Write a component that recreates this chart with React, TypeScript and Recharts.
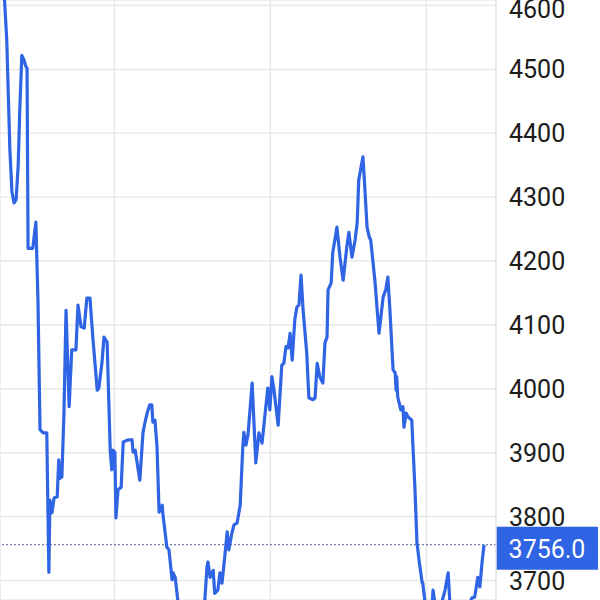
import * as React from "react"
import {
  CartesianGrid,
  Line,
  LineChart,
  ReferenceLine,
  XAxis,
  YAxis
} from "recharts"

// trading days since start of window (fractional = intraday)
const days = [
  0.6, 1.3, 1.9, 2.3, 2.7, 3.1, 3.5, 3.8, 4.2, 4.6, 5.0, 5.2, 5.4, 6.3, 6.9, 7.3, 7.7, 8.3, 9.0, 9.4,
  9.6, 10.0, 10.4, 11.0, 11.3, 11.5, 11.9, 12.3, 12.7, 13.3, 13.8, 14.6, 15.0, 15.6, 16.2, 16.7, 17.3, 17.9, 18.7, 19.0,
  19.6, 20.0, 20.6, 21.2, 21.5, 21.7, 22.1, 22.3, 22.7, 23.3, 23.7, 24.6, 25.4, 25.6, 26.0, 26.9, 27.5, 27.9, 28.3, 28.8,
  29.2, 29.4, 29.8, 30.2, 30.6, 31.2, 31.3, 32.1, 32.5, 33.1, 33.3, 33.7, 34.2, 35.2, 36.5, 37.7, 38.7, 39.4, 39.8, 40.0,
  40.4, 41.0, 41.3, 41.9, 42.3, 42.7, 43.3, 43.7, 44.0, 44.6, 45.0, 45.6, 46.2, 46.7, 46.9, 47.3, 47.7, 48.5, 49.2, 49.8,
  50.4, 51.0, 51.5, 51.9, 52.3, 52.7, 53.5, 54.2, 54.6, 55.0, 55.4, 55.8, 56.2, 56.7, 57.1, 57.5, 57.9, 58.3, 59.0, 59.4,
  60.2, 60.6, 61.0, 61.5, 62.1, 62.5, 62.9, 63.1, 63.7, 64.0, 64.8, 65.4, 66.0, 66.7, 67.1, 67.7, 68.3, 68.7, 69.0, 69.8,
  70.0, 70.6, 71.0, 71.3, 72.1, 72.9, 73.7, 74.2, 74.6, 75.0, 75.6, 76.0, 76.2, 76.3, 76.5, 77.1, 77.5, 77.7, 78.1, 78.5,
  79.2, 79.4, 79.8, 80.2, 80.6, 81.2, 81.3, 81.7, 82.3, 82.9, 83.3, 83.7, 84.6, 85.6, 86.2, 86.5, 87.5, 88.5, 89.6, 90.8,
  91.3, 91.9, 92.3, 92.7, 93.1
]

const prices = [
  4648, 4546, 4374, 4308, 4291, 4296, 4350, 4436, 4522, 4515, 4504, 4502, 4220, 4220, 4261, 4139, 3936, 3931, 3931, 3713,
  3826, 3806, 3829, 3831, 3889, 3860, 3862, 3962, 4123, 3972, 4061, 4061, 4131, 4097, 4095, 4142, 4142, 4076, 3998, 4001,
  4040, 4081, 4073, 3904, 3873, 3904, 3901, 3798, 3842, 3846, 3917, 3920, 3920, 3901, 3904, 3857, 3931, 3948, 3962, 3975,
  3975, 3948, 3951, 3909, 3807, 3818, 3806, 3752, 3748, 3701, 3712, 3705, 3669, 3638, 3607, 3630, 3615, 3669, 3721, 3729,
  3705, 3716, 3680, 3685, 3712, 3696, 3743, 3776, 3748, 3774, 3787, 3790, 3818, 3909, 3932, 3912, 3928, 4009, 3884, 3931,
  3915, 3962, 4001, 3967, 4019, 3998, 3943, 4037, 4040, 4066, 4064, 4087, 4045, 4108, 4128, 4131, 4178, 4123, 4056, 3986,
  3983, 3986, 4040, 4019, 4009, 4072, 4081, 4155, 4166, 4213, 4253, 4206, 4170, 4222, 4245, 4206, 4233, 4260, 4327, 4363,
  4338, 4253, 4238, 4233, 4170, 4087, 4144, 4155, 4175, 4123, 4030, 4025, 3998, 4019, 3987, 3967, 3972, 3940, 3962, 3956,
  3951, 3915, 3846, 3759, 3732, 3696, 3697, 3669, 3646, 3638, 3685, 3661, 3654, 3685, 3712, 3669, 3646, 3638, 3651, 3673,
  3674, 3705, 3690, 3727, 3756
]

const priceTicks = [3700, 3800, 3900, 4000, 4100, 4200, 4300, 4400, 4500, 4600]
const monthTicks = [22, 52, 82]
const lastPrice = 3756.0

const data = days.map((d, i) => ({ day: d, price: prices[i] }))

const BLUE = "#2f64e4"

function PriceTick(props: any) {
  const { x, y, payload } = props
  return (
    <text
      x={x + 5}
      y={y}
      dy="0.36em"
      textAnchor="start"
      fill="#1c1c1c"
      fontSize={25}
      fontFamily="Roboto"
    >
      {payload.value}
    </text>
  )
}

function LastPriceTag(props: any) {
  const { viewBox } = props
  if (!viewBox) return null
  const x = viewBox.x + viewBox.width
  const y = viewBox.y
  return (
    <g>
      <rect x={x} y={y - 18} width={102} height={43} fill={BLUE} />
      <text
        x={x + 51}
        y={y + 4}
        dy="0.36em"
        textAnchor="middle"
        fill="#fff"
        fontSize={25}
        fontFamily="Roboto"
      >
        {lastPrice.toFixed(1)}
      </text>
    </g>
  )
}

export default function App() {
  return (
    <div style={{ position: "absolute", left: 0, top: 0, background: "#fff" }}>
      <LineChart
        width={600}
        height={600}
        data={data}
        margin={{ top: 0, right: 0, bottom: 0, left: 0 }}
      >
        <CartesianGrid stroke="#e9e9e9" strokeWidth={1.5} />
        <XAxis
          dataKey="day"
          type="number"
          domain={[0, 95.4]}
          ticks={monthTicks}
          hide
        />
        <YAxis
          orientation="right"
          width={104}
          type="number"
          domain={[3669.5, 4608.6]}
          allowDataOverflow
          ticks={priceTicks}
          tickLine={false}
          tickSize={6}
          axisLine={{ stroke: "#e6e6e6", strokeWidth: 1.5 }}
          tick={<PriceTick />}
        />
        <ReferenceLine
          y={lastPrice}
          stroke="#4d5f94"
          strokeDasharray="2 2"
          strokeWidth={1}
          label={<LastPriceTag />}
        />
        <Line
          type="linear"
          dataKey="price"
          stroke={BLUE}
          strokeWidth={3.2}
          strokeLinejoin="round"
          dot={false}
          isAnimationActive={false}
        />
      </LineChart>
    </div>
  )
}
